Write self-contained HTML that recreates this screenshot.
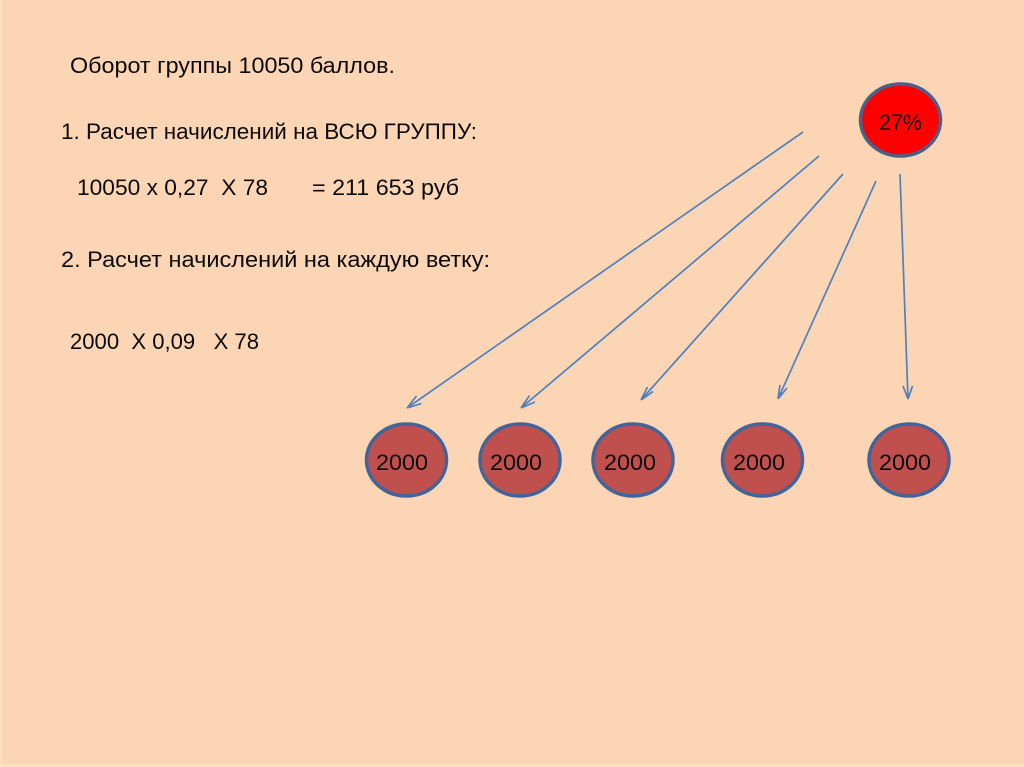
<!DOCTYPE html>
<html>
<head>
<meta charset="utf-8">
<style>
html,body{margin:0;padding:0;background:#fcd5b5;width:1024px;height:767px;overflow:hidden}
svg{display:block}
text{font-family:"Liberation Sans","DejaVu Sans",sans-serif;fill:#0c0a08;font-size:22.5px;white-space:pre}
.blur{filter:blur(0.35px)}
</style>
</head>
<body>
<svg width="1024" height="767" viewBox="0 0 1024 767" xmlns="http://www.w3.org/2000/svg">
<rect width="1024" height="767" fill="#fcd5b5"/>
<rect x="0" y="0" width="1.5" height="767" fill="#fde0bd"/>
<rect x="0" y="764" width="1024" height="3" fill="#fde0bd"/>

<g class="blur">
<text x="70" y="73" textLength="325" lengthAdjust="spacingAndGlyphs">Оборот группы 10050 баллов.</text>
<text x="61" y="139" textLength="416" lengthAdjust="spacingAndGlyphs">1. Расчет начислений на ВСЮ ГРУППУ:</text>
<text x="77" y="195" textLength="191" lengthAdjust="spacingAndGlyphs">10050 х 0,27  Х 78</text>
<text x="312" y="195" textLength="147" lengthAdjust="spacingAndGlyphs">= 211 653 руб</text>
<text x="61" y="267" textLength="429" lengthAdjust="spacingAndGlyphs">2. Расчет начислений на каждую ветку:</text>
<text x="70" y="349" textLength="189" lengthAdjust="spacingAndGlyphs">2000  Х 0,09   Х 78</text>

<g stroke="#4f81bd" stroke-width="1.7" fill="none">
<path d="M803 132L407 408M407 408L416.500 396M407 408L421.500 403.500"/>
<path d="M819 156L521 408M521 408L529.500 395.500M521 408L535 402"/>
<path d="M843 174L641 400M641 400L647.500 387M641 400L653 391.500"/>
<path d="M876 181L778 399M778 399L780 385M778 399L787 388"/>
<path d="M900 174L908 399M908 399L903 386M908 399L912.500 386"/>
</g>

<ellipse cx="900.500" cy="120" rx="40" ry="36" fill="#ff0000" stroke="#4a6089" stroke-width="3.500"/>
<text x="879" y="130" textLength="43" lengthAdjust="spacingAndGlyphs">27%</text>

<g fill="#c0504d" stroke="#41659a" stroke-width="3.500">
<ellipse cx="406.500" cy="460" rx="40" ry="36"/>
<ellipse cx="520" cy="460" rx="40" ry="36"/>
<ellipse cx="633" cy="460" rx="40" ry="36"/>
<ellipse cx="762.500" cy="460" rx="40" ry="36"/>
<ellipse cx="909" cy="460" rx="40" ry="36"/>
</g>
<text x="376" y="470" textLength="52" lengthAdjust="spacingAndGlyphs">2000</text>
<text x="490" y="470" textLength="52" lengthAdjust="spacingAndGlyphs">2000</text>
<text x="604" y="470" textLength="52" lengthAdjust="spacingAndGlyphs">2000</text>
<text x="733" y="470" textLength="52" lengthAdjust="spacingAndGlyphs">2000</text>
<text x="879" y="470" textLength="52" lengthAdjust="spacingAndGlyphs">2000</text>
</g>
</svg>
</body>
</html>
